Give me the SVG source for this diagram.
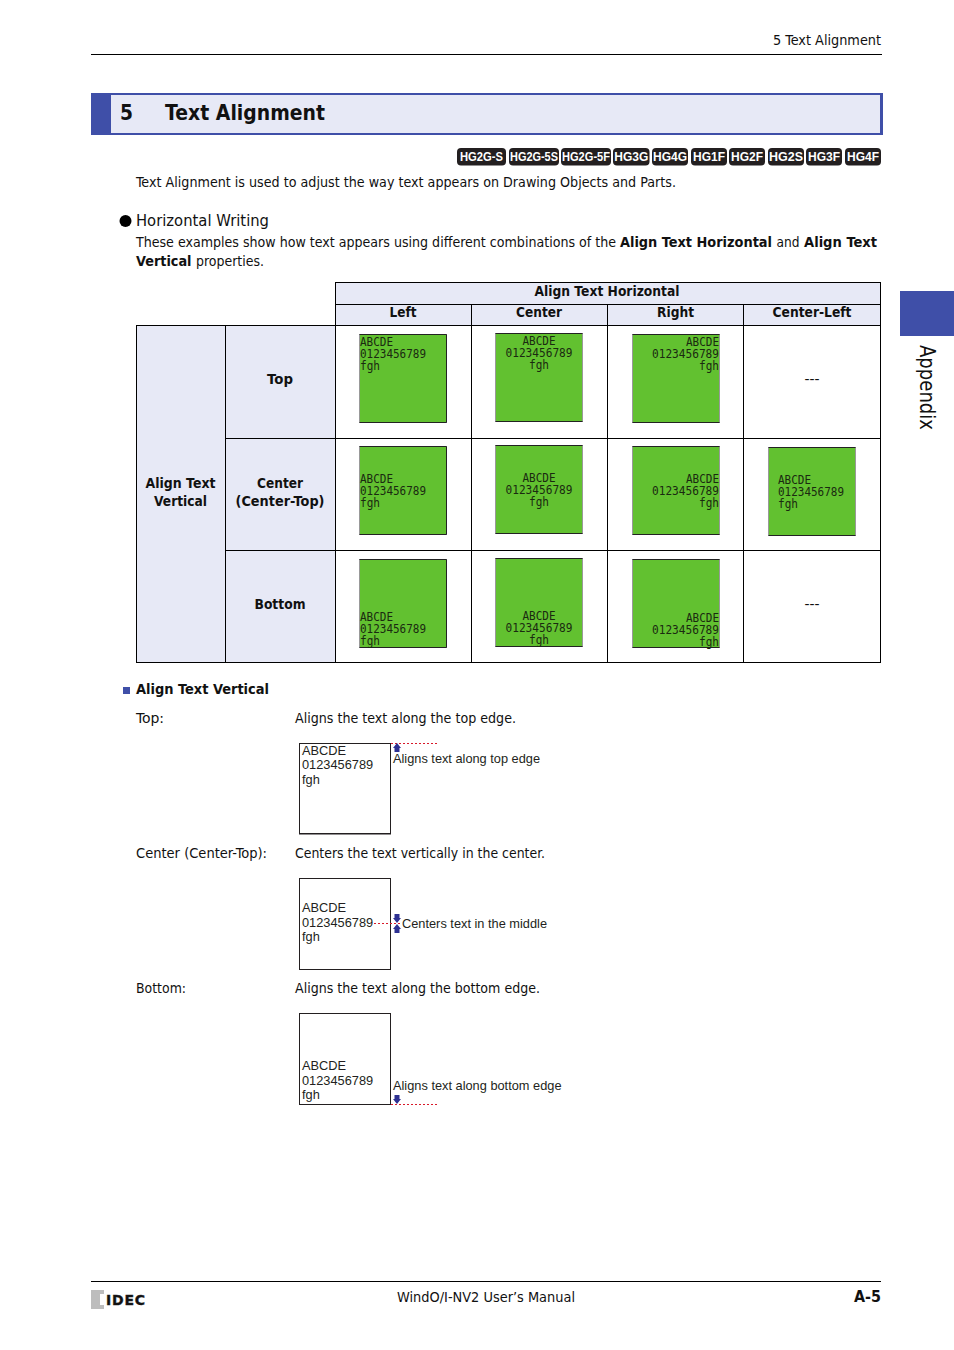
<svg xmlns="http://www.w3.org/2000/svg" width="954" height="1350" viewBox="0 0 954 1350">
<style>
text{font-family:"DejaVu Sans",Verdana,sans-serif;fill:#111}
.b{font-size:14px;font-stretch:condensed}
.bold{font-weight:700}
.th{font-size:13.500px;font-weight:700;text-anchor:middle}
.badge{fill:#231f20}
.bt{font-family:"Liberation Sans",Arial,sans-serif;font-size:12px;font-weight:700;fill:#fff;text-anchor:middle}
.cell{fill:#e7e9f6;stroke:#000;stroke-width:1}
.w{fill:#fff;stroke:#000;stroke-width:1}
.g{fill:#62c130;stroke:#999;stroke-width:1}
.gb{fill:none;stroke:#222;stroke-width:1}
.m{font-family:"DejaVu Sans Mono","Liberation Mono",monospace;font-size:12px;fill:#1a2a10}
.a{font-family:"Liberation Sans",Arial,sans-serif;font-size:12.800px;fill:#231f20}
.box{fill:#fff;stroke:#231f20;stroke-width:1}
.dot{stroke:#d8192a;stroke-width:1;stroke-dasharray:2 2;fill:none}
.arr{fill:#2e3192}
</style>
<g id="page-header">
<text class="b" x="881" y="45" text-anchor="end" textLength="108" lengthAdjust="spacingAndGlyphs">5 Text Alignment</text>
<line x1="91" y1="54.500" x2="882" y2="54.500" stroke="#000"/>
</g>
<g id="title">
<rect x="92" y="94" width="790" height="40" fill="#e7e9f6" stroke="#3f4fa8" stroke-width="2"/>
<rect x="880" y="93" width="3" height="42" fill="#3f4fa8"/>
<rect x="91" y="93" width="20" height="42" fill="#3f4fa8"/>
<text x="120" y="120" font-size="21" font-weight="700" textLength="13" lengthAdjust="spacingAndGlyphs">5</text>
<text x="165" y="120" font-size="21" font-weight="700" textLength="160" lengthAdjust="spacingAndGlyphs">Text Alignment</text>
</g>
<g id="badges">
<rect class="badge" x="457" y="148" width="49" height="17.500" rx="4"/><text class="bt" x="481.500" y="161" textLength="43" lengthAdjust="spacingAndGlyphs">HG2G-S</text>
<rect class="badge" x="509" y="148" width="50" height="17.500" rx="4"/><text class="bt" x="534" y="161" textLength="48" lengthAdjust="spacingAndGlyphs">HG2G-5S</text>
<rect class="badge" x="561" y="148" width="50" height="17.500" rx="4"/><text class="bt" x="586" y="161" textLength="48" lengthAdjust="spacingAndGlyphs">HG2G-5F</text>
<rect class="badge" x="613" y="148" width="36.500" height="17.500" rx="4"/><text class="bt" x="631.300" y="161" textLength="34" lengthAdjust="spacingAndGlyphs">HG3G</text>
<rect class="badge" x="652" y="148" width="36" height="17.500" rx="4"/><text class="bt" x="670" y="161" textLength="34" lengthAdjust="spacingAndGlyphs">HG4G</text>
<rect class="badge" x="691" y="148" width="36" height="17.500" rx="4"/><text class="bt" x="709" y="161" textLength="32" lengthAdjust="spacingAndGlyphs">HG1F</text>
<rect class="badge" x="729" y="148" width="36" height="17.500" rx="4"/><text class="bt" x="747" y="161" textLength="32" lengthAdjust="spacingAndGlyphs">HG2F</text>
<rect class="badge" x="768" y="148" width="36" height="17.500" rx="4"/><text class="bt" x="786" y="161" textLength="34" lengthAdjust="spacingAndGlyphs">HG2S</text>
<rect class="badge" x="806" y="148" width="36" height="17.500" rx="4"/><text class="bt" x="824" y="161" textLength="32" lengthAdjust="spacingAndGlyphs">HG3F</text>
<rect class="badge" x="845" y="148" width="36" height="17.500" rx="4"/><text class="bt" x="863" y="161" textLength="32" lengthAdjust="spacingAndGlyphs">HG4F</text>
</g>
<g id="intro">
<text class="b" x="136" y="187" textLength="540" lengthAdjust="spacingAndGlyphs">Text Alignment is used to adjust the way text appears on Drawing Objects and Parts.</text>
<circle cx="125.500" cy="221" r="6" fill="#000"/>
<text x="136" y="226" font-size="16" textLength="133" lengthAdjust="spacingAndGlyphs">Horizontal Writing</text>
<text class="b" x="136" y="247" textLength="480" lengthAdjust="spacingAndGlyphs">These examples show how text appears using different combinations of the</text>
<text class="b bold" x="620" y="247" textLength="152" lengthAdjust="spacingAndGlyphs">Align Text Horizontal</text>
<text class="b" x="776.500" y="247" textLength="23" lengthAdjust="spacingAndGlyphs">and</text>
<text class="b bold" x="804" y="247" textLength="73" lengthAdjust="spacingAndGlyphs">Align Text</text>
<text class="b bold" x="136" y="266" textLength="55.500" lengthAdjust="spacingAndGlyphs">Vertical</text>
<text class="b" x="196" y="266" textLength="68" lengthAdjust="spacingAndGlyphs">properties.</text>
</g>
<g id="table">
<rect class="cell" x="335.500" y="282.500" width="545" height="22"/>
<rect class="cell" x="335.500" y="304.500" width="136" height="21"/>
<rect class="cell" x="471.500" y="304.500" width="136" height="21"/>
<rect class="cell" x="607.500" y="304.500" width="136" height="21"/>
<rect class="cell" x="743.500" y="304.500" width="137" height="21"/>
<rect class="cell" x="136.500" y="325.500" width="89" height="337"/>
<rect class="cell" x="225.500" y="325.500" width="110" height="113"/>
<rect class="cell" x="225.500" y="438.500" width="110" height="112"/>
<rect class="cell" x="225.500" y="550.500" width="110" height="112"/>
<rect class="w" x="335.500" y="325.500" width="136" height="113"/><rect class="w" x="471.500" y="325.500" width="136" height="113"/><rect class="w" x="607.500" y="325.500" width="136" height="113"/><rect class="w" x="743.500" y="325.500" width="137" height="113"/>
<rect class="w" x="335.500" y="438.500" width="136" height="112"/><rect class="w" x="471.500" y="438.500" width="136" height="112"/><rect class="w" x="607.500" y="438.500" width="136" height="112"/><rect class="w" x="743.500" y="438.500" width="137" height="112"/>
<rect class="w" x="335.500" y="550.500" width="136" height="112"/><rect class="w" x="471.500" y="550.500" width="136" height="112"/><rect class="w" x="607.500" y="550.500" width="136" height="112"/><rect class="w" x="743.500" y="550.500" width="137" height="112"/>
<text class="th" x="607" y="296" textLength="145" lengthAdjust="spacingAndGlyphs">Align Text Horizontal</text>
<text class="th" x="403" y="317" textLength="27" lengthAdjust="spacingAndGlyphs">Left</text><text class="th" x="539" y="317" textLength="46" lengthAdjust="spacingAndGlyphs">Center</text><text class="th" x="675.500" y="317" textLength="37" lengthAdjust="spacingAndGlyphs">Right</text><text class="th" x="812" y="317" textLength="79" lengthAdjust="spacingAndGlyphs">Center-Left</text>
<text class="th" x="180.500" y="488" textLength="70" lengthAdjust="spacingAndGlyphs">Align Text</text><text class="th" x="180.500" y="506" textLength="53" lengthAdjust="spacingAndGlyphs">Vertical</text>
<text class="th" x="280" y="384" textLength="26" lengthAdjust="spacingAndGlyphs">Top</text>
<text class="th" x="280" y="488" textLength="46" lengthAdjust="spacingAndGlyphs">Center</text><text class="th" x="280" y="506" textLength="89" lengthAdjust="spacingAndGlyphs">(Center-Top)</text>
<text class="th" x="280" y="609" textLength="51" lengthAdjust="spacingAndGlyphs">Bottom</text>
<text class="b" x="812" y="384" text-anchor="middle" textLength="15" lengthAdjust="spacingAndGlyphs">---</text>
<text class="b" x="812" y="609" text-anchor="middle" textLength="15" lengthAdjust="spacingAndGlyphs">---</text>
</g>
<g id="samples">
<rect class="g" x="359.500" y="334.500" width="87" height="88"/><path class="gb" d="M359.500 334.500H446.500V422.500H359.500"/>
<text class="m" x="360" y="346" textLength="33" lengthAdjust="spacingAndGlyphs">ABCDE</text><text class="m" x="360" y="358" textLength="66" lengthAdjust="spacingAndGlyphs">0123456789</text><text class="m" x="360" y="370" textLength="20" lengthAdjust="spacingAndGlyphs">fgh</text>
<rect class="g" x="495.500" y="333.500" width="87" height="88"/><path class="gb" d="M495.500 333.500H582.500M495.500 421.500H582.500"/>
<text class="m" x="539" y="345" text-anchor="middle" textLength="33" lengthAdjust="spacingAndGlyphs">ABCDE</text><text class="m" x="539" y="357" text-anchor="middle" textLength="67" lengthAdjust="spacingAndGlyphs">0123456789</text><text class="m" x="539" y="369" text-anchor="middle" textLength="20" lengthAdjust="spacingAndGlyphs">fgh</text>
<rect class="g" x="632.500" y="334.500" width="87" height="88"/><path class="gb" d="M632.500 334.500H719.500M632.500 422.500H719.500"/>
<text class="m" x="719" y="346" text-anchor="end" textLength="33" lengthAdjust="spacingAndGlyphs">ABCDE</text><text class="m" x="719" y="358" text-anchor="end" textLength="67" lengthAdjust="spacingAndGlyphs">0123456789</text><text class="m" x="719" y="370" text-anchor="end" textLength="20" lengthAdjust="spacingAndGlyphs">fgh</text>
<rect class="g" x="359.500" y="446.500" width="87" height="88"/><path class="gb" d="M359.500 446.500H446.500V534.500H359.500"/>
<text class="m" x="360" y="483" textLength="33" lengthAdjust="spacingAndGlyphs">ABCDE</text><text class="m" x="360" y="495" textLength="66" lengthAdjust="spacingAndGlyphs">0123456789</text><text class="m" x="360" y="507" textLength="20" lengthAdjust="spacingAndGlyphs">fgh</text>
<rect class="g" x="495.500" y="445.500" width="87" height="88"/><path class="gb" d="M495.500 445.500H582.500M495.500 533.500H582.500"/>
<text class="m" x="539" y="482" text-anchor="middle" textLength="33" lengthAdjust="spacingAndGlyphs">ABCDE</text><text class="m" x="539" y="494" text-anchor="middle" textLength="67" lengthAdjust="spacingAndGlyphs">0123456789</text><text class="m" x="539" y="506" text-anchor="middle" textLength="20" lengthAdjust="spacingAndGlyphs">fgh</text>
<rect class="g" x="632.500" y="446.500" width="87" height="88"/><path class="gb" d="M632.500 446.500H719.500M632.500 534.500H719.500"/>
<text class="m" x="719" y="483" text-anchor="end" textLength="33" lengthAdjust="spacingAndGlyphs">ABCDE</text><text class="m" x="719" y="495" text-anchor="end" textLength="67" lengthAdjust="spacingAndGlyphs">0123456789</text><text class="m" x="719" y="507" text-anchor="end" textLength="20" lengthAdjust="spacingAndGlyphs">fgh</text>
<rect class="g" x="768.500" y="447.500" width="87" height="88"/><path class="gb" d="M768.500 447.500H855.500M768.500 535.500H855.500"/>
<text class="m" x="778" y="484" textLength="33" lengthAdjust="spacingAndGlyphs">ABCDE</text><text class="m" x="778" y="496" textLength="66" lengthAdjust="spacingAndGlyphs">0123456789</text><text class="m" x="778" y="508" textLength="20" lengthAdjust="spacingAndGlyphs">fgh</text>
<rect class="g" x="359.500" y="559.500" width="87" height="88"/><path class="gb" d="M359.500 559.500H446.500V647.500H359.500"/>
<text class="m" x="360" y="621" textLength="33" lengthAdjust="spacingAndGlyphs">ABCDE</text><text class="m" x="360" y="633" textLength="66" lengthAdjust="spacingAndGlyphs">0123456789</text><text class="m" x="360" y="645" textLength="20" lengthAdjust="spacingAndGlyphs">fgh</text>
<rect class="g" x="495.500" y="558.500" width="87" height="88"/><path class="gb" d="M495.500 558.500H582.500M495.500 646.500H582.500"/>
<text class="m" x="539" y="620" text-anchor="middle" textLength="33" lengthAdjust="spacingAndGlyphs">ABCDE</text><text class="m" x="539" y="632" text-anchor="middle" textLength="67" lengthAdjust="spacingAndGlyphs">0123456789</text><text class="m" x="539" y="644" text-anchor="middle" textLength="20" lengthAdjust="spacingAndGlyphs">fgh</text>
<rect class="g" x="632.500" y="559.500" width="87" height="88"/><path class="gb" d="M632.500 559.500H719.500M632.500 647.500H719.500"/>
<text class="m" x="719" y="622" text-anchor="end" textLength="33" lengthAdjust="spacingAndGlyphs">ABCDE</text><text class="m" x="719" y="634" text-anchor="end" textLength="67" lengthAdjust="spacingAndGlyphs">0123456789</text><text class="m" x="719" y="646" text-anchor="end" textLength="20" lengthAdjust="spacingAndGlyphs">fgh</text>
</g>
<g id="section">
<rect x="123" y="687" width="7" height="7" fill="#3f4fa8"/>
<text class="b bold" x="136" y="694" textLength="133" lengthAdjust="spacingAndGlyphs">Align Text Vertical</text>
<text class="b" x="136" y="723" textLength="28" lengthAdjust="spacingAndGlyphs">Top:</text>
<text class="b" x="295" y="723" textLength="221" lengthAdjust="spacingAndGlyphs">Aligns the text along the top edge.</text>
<text class="b" x="136" y="858" textLength="131" lengthAdjust="spacingAndGlyphs">Center (Center-Top):</text>
<text class="b" x="295" y="858" textLength="250" lengthAdjust="spacingAndGlyphs">Centers the text vertically in the center.</text>
<text class="b" x="136" y="993" textLength="50" lengthAdjust="spacingAndGlyphs">Bottom:</text>
<text class="b" x="295" y="993" textLength="245" lengthAdjust="spacingAndGlyphs">Aligns the text along the bottom edge.</text>
</g>
<g id="example-top">
<rect class="box" x="299.500" y="743.500" width="91" height="90"/><line x1="299" y1="834" x2="391" y2="834" stroke="#231f20"/>
<text class="a" x="302" y="755">ABCDE</text><text class="a" x="302" y="769">0123456789</text><text class="a" x="302" y="784">fgh</text>
<line class="dot" x1="391" y1="743.500" x2="437" y2="743.500"/>
<path class="arr" d="M397 743L401 748H399.500V752H394.500V748H393Z"/>
<text class="a" x="393" y="763" textLength="147" lengthAdjust="spacingAndGlyphs">Aligns text along top edge</text>
</g>
<g id="example-center">
<rect class="box" x="299.500" y="878.500" width="91" height="91"/>
<text class="a" x="302" y="912">ABCDE</text><text class="a" x="302" y="927">0123456789</text><text class="a" x="302" y="941">fgh</text>
<line class="dot" x1="374" y1="923.500" x2="401" y2="923.500"/>
<path class="arr" d="M394.500 914H399.500V918H401L397 923L393 918H394.500Z"/>
<path class="arr" d="M397 924L401 929H399.500V933H394.500V929H393Z"/>
<text class="a" x="402" y="928" textLength="145" lengthAdjust="spacingAndGlyphs">Centers text in the middle</text>
</g>
<g id="example-bottom">
<rect class="box" x="299.500" y="1013.500" width="91" height="91"/>
<text class="a" x="302" y="1070">ABCDE</text><text class="a" x="302" y="1085">0123456789</text><text class="a" x="302" y="1099">fgh</text>
<line class="dot" x1="391" y1="1104.500" x2="437" y2="1104.500"/>
<path class="arr" d="M394.500 1095H399.500V1099H401L397 1104L393 1099H394.500Z"/>
<text class="a" x="393" y="1090" textLength="168.500" lengthAdjust="spacingAndGlyphs">Aligns text along bottom edge</text>
</g>
<g id="side-tab">
<rect x="900" y="291" width="54" height="45" fill="#3f4fa8"/>
<text transform="translate(920 345) rotate(90)" font-size="21" textLength="85" lengthAdjust="spacingAndGlyphs">Appendix</text>
</g>
<g id="footer">
<line x1="91" y1="1281.500" x2="881" y2="1281.500" stroke="#000"/>
<rect x="91" y="1290" width="13" height="19" fill="#bdbdbd"/>
<rect x="100" y="1294" width="4" height="11" fill="#fff"/>
<text x="106" y="1304.500" font-weight="700" font-size="14" textLength="39" lengthAdjust="spacing" fill="#231f20" stroke="#231f20" stroke-width=".4">IDEC</text>
<text class="b" x="397" y="1302" textLength="178" lengthAdjust="spacingAndGlyphs">WindO/I-NV2 User’s Manual</text>
<text x="881" y="1302" text-anchor="end" font-size="15" font-weight="700" textLength="27" lengthAdjust="spacingAndGlyphs">A-5</text>
</g>
</svg>
